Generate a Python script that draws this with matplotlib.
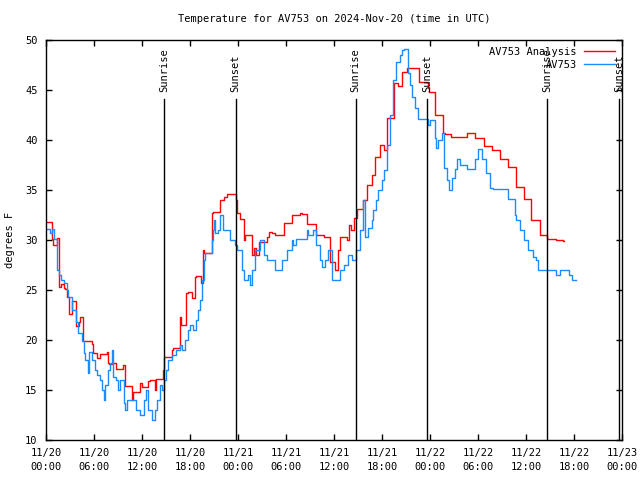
import matplotlib
matplotlib.use("Agg")
import matplotlib.pyplot as plt

# Hours since 2024-11-20 00:00 UTC, step values (degrees F)
red_h = [0, 0.7, 0.85, 1.4, 1.67, 1.83, 2.25, 2.4, 2.67, 2.83, 3.2, 3.75, 4.1, 4.25, 4.67, 5.7, 5.9,
         6.4, 6.8, 7.6, 7.7, 7.9, 8.4, 8.75, 9.6, 9.9, 10.7, 10.9, 11.75, 12.0, 12.8, 13.0, 13.6,
         13.8, 14.65, 14.8, 15.7, 15.9, 16.7, 16.8, 16.9, 17.5, 17.8, 18.3, 18.6, 18.8, 19.4, 19.6,
         19.7, 20.7, 20.9, 21.75, 22.3, 22.6, 23.7, 23.9, 24.2, 24.7, 24.9, 25.7, 26.0, 26.3, 26.6,
         27.6, 27.9, 28.3, 28.6, 29.7, 30.7, 31.75, 32.0, 32.6, 33.8, 34.7, 35.5, 36.1, 36.5, 36.8,
         37.6, 37.9, 38.1, 38.5, 38.9, 39.6, 40.1, 40.7, 41.1, 41.7, 42.2, 42.6, 43.5, 44.0, 44.5,
         45.1, 46.6, 47.7, 47.9, 48.6, 49.6, 49.9, 50.6, 52.6, 53.6, 54.7, 55.7, 56.7, 57.7, 58.75,
         59.8, 60.6, 61.7, 62.6, 63.7, 64.6, 64.7]
red_t = [31.8, 30.1, 29.5, 30.2, 25.3, 25.6, 25.2, 25.1, 24.3, 22.6, 23.9, 21.4, 21.8, 22.3, 19.9, 19.6, 18.7,
         18.2, 18.6, 18.8, 17.7, 17.6, 17.7, 17.1, 17.5, 15.4, 14.0, 14.8, 15.7, 15.3, 15.9, 16.0, 15.0,
         16.1, 17.0, 18.3, 19.0, 19.2, 20.5, 22.3, 21.5, 24.7, 24.8, 24.2, 26.3, 26.4, 25.7, 29.0,
         28.7, 32.7, 32.8, 34.0, 34.3, 34.6, 34.0, 32.7, 32.1, 30.0, 30.5, 28.5, 29.2, 28.5, 29.8,
         30.3, 30.8, 30.7, 30.5, 31.7, 32.5, 32.7, 32.6, 31.6, 30.5, 30.3, 27.8, 27.0, 29.0, 30.3,
         30.0, 31.5, 31.0, 32.2, 33.1, 34.0, 35.5, 36.5, 38.3, 39.5, 39.0, 42.2, 45.7, 45.4, 46.8,
         47.2, 45.8, 45.3, 44.8, 42.5, 40.7, 40.6, 40.3, 40.7, 40.2, 39.4, 39.0, 38.1, 37.3, 35.3,
         34.1, 32.0, 30.5, 30.1, 30.0, 29.9, 29.9]

blue_h = [0, 0.5, 0.8, 1.0, 1.4, 1.67, 1.9, 2.2, 2.6, 2.8, 3.2, 3.75, 4.0, 4.5, 4.7, 4.9, 5.2, 5.4, 5.7,
          6.1, 6.4, 6.75, 6.95, 7.2, 7.4, 7.8, 8.0, 8.2, 8.4, 8.75, 9.0, 9.3, 9.7, 9.9, 10.1, 11.3,
          11.75, 12.2, 12.5, 12.8, 13.2, 13.6, 13.9, 14.2, 14.5, 14.75, 15.0, 15.3, 15.7, 16.3, 16.7,
          17.0, 17.4, 17.7, 18.0, 18.4, 18.7, 19.0, 19.2, 19.5, 19.7, 19.9, 20.7, 20.9, 21.0, 21.1,
          21.5, 21.75, 22.1, 23.0, 23.6, 23.9, 24.5, 24.8, 25.2, 25.5, 25.7, 26.1, 26.75, 27.2, 27.6,
          28.6, 29.5, 30.1, 30.7, 30.9, 31.3, 32.6, 32.8, 33.4, 33.8, 34.25, 34.5, 34.9, 35.3, 35.7,
          36.75, 37.2, 37.8, 38.2, 38.8, 39.25, 39.6, 39.9, 40.3, 40.7, 40.9, 41.25, 41.5, 42.0, 42.2,
          42.6, 43.0, 43.4, 43.75, 44.3, 44.5, 44.75, 45.3, 45.5, 45.7, 46.1, 46.5, 47.7, 48.0, 48.6,
          48.8, 49.0, 49.5, 49.75, 50.1, 50.4, 50.7, 51.1, 51.4, 51.7, 52.6, 53.6, 54.0, 54.5, 55.0,
          55.5, 55.9, 57.7, 58.6, 58.8, 59.25, 59.7, 60.3, 60.9, 61.25, 61.5, 63.7, 64.3, 65.4, 65.7,
          66.25]
blue_t = [31.1, 30.7, 31.1, 30.1, 27.0, 26.5, 26.0, 25.7, 25.0, 24.3, 23.0, 21.8, 20.7, 19.9, 18.7, 18.0, 16.7, 18.8, 18.0,
          17.0, 16.5, 16.0, 15.0, 14.0, 15.5, 17.0, 17.7, 19.0, 16.3, 16.0, 15.0, 16.0, 13.7, 13.0, 14.0, 13.0,
          12.5, 14.0, 15.0, 13.0, 12.0, 13.0, 14.0, 15.5, 15.0, 16.0, 17.0, 18.0, 18.5, 19.0, 19.5,
          19.0, 20.0, 21.0, 21.5, 21.0, 22.0, 23.0, 24.0, 26.0, 28.0, 28.7, 30.0, 31.0, 32.0, 30.7,
          31.0, 32.5, 31.0, 30.0, 29.5, 29.0, 27.0, 26.0, 26.5, 25.5, 27.0, 29.0, 30.0, 28.5, 28.0,
          27.0, 28.0, 29.0, 30.0, 29.5, 30.1, 31.0, 30.5, 31.0, 29.5, 28.0, 27.3, 28.0, 29.0, 26.0,
          27.0, 27.5, 28.5, 28.0, 29.0, 31.0, 34.0, 30.3, 31.2, 32.0, 33.0, 34.0, 35.0, 36.0, 37.0,
          39.5, 42.5, 46.0, 47.8, 48.5, 49.0, 49.1, 46.7, 45.5, 44.3, 43.2, 42.1, 41.5, 42.0, 40.2,
          39.2, 40.0, 40.7, 37.2, 36.0, 35.0, 36.2, 37.1, 38.1, 37.5, 37.1, 38.1, 39.1, 38.1, 36.7,
          35.2, 35.1, 34.1, 32.5, 32.0, 31.0, 30.0, 29.0, 28.3, 28.0, 27.0, 26.5, 27.0, 26.5, 26.0,
          26.0]

sun_h = [14.75, 23.7, 38.7, 47.67, 62.66, 71.6]
sun_lbl = ["Sunrise", "Sunset", "Sunrise", "Sunset", "Sunrise", "Sunset"]

xtick_h = list(range(0, 73, 6))
xtick_lbl = ["11/20\n00:00", "11/20\n06:00", "11/20\n12:00", "11/20\n18:00",
             "11/21\n00:00", "11/21\n06:00", "11/21\n12:00", "11/21\n18:00",
             "11/22\n00:00", "11/22\n06:00", "11/22\n12:00", "11/22\n18:00",
             "11/23\n00:00"]

plt.rcParams['font.family'] = ['DejaVu Sans Mono']
fs = 7.5

fig = plt.figure(figsize=(6.4, 4.8), dpi=100)
ax = fig.add_axes([46/640, 1-440/480, 576/640, 400/480])

ax.plot(red_h, red_t, drawstyle='steps-post', color='#ff0000', lw=1.0, label='AV753 Analysis')
ax.plot(blue_h, blue_t, drawstyle='steps-post', color='#1a8cff', lw=1.0, label='AV753')

for h, l in zip(sun_h, sun_lbl):
    ax.plot([h, h], [10, 44.1], color='black', lw=1.0)
    ax.text(h, 44.8, l, rotation=90, ha='center', va='bottom', fontsize=fs)

ax.set_xlim(0, 72)
ax.set_ylim(10, 50)
ax.set_xticks(xtick_h)
ax.set_xticklabels(xtick_lbl, fontsize=fs, linespacing=1.5)
ax.set_yticks(range(10, 51, 5))
ax.set_yticklabels([str(v) for v in range(10, 51, 5)], fontsize=fs)
ax.tick_params(direction='in', length=4, width=1, top=True, right=True, pad=6)
ax.set_ylabel('degrees F', fontsize=fs, labelpad=7)
ax.set_title('Temperature for AV753 on 2024-Nov-20 (time in UTC)', fontsize=fs, pad=13)
for s in ax.spines.values():
    s.set_linewidth(1.0)

leg = ax.legend(loc='upper right', fontsize=fs, frameon=False, handlelength=3.0,
                markerfirst=False, borderaxespad=0.25, labelspacing=0.3, handletextpad=0.7)

fig.savefig('out.png', dpi=100)
